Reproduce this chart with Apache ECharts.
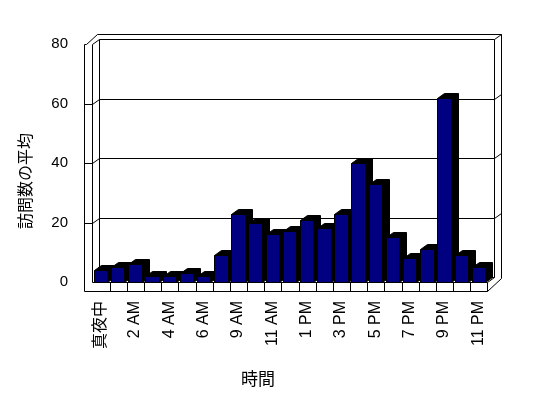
<!DOCTYPE html>
<html>
<head>
<meta charset="utf-8">
<script src="https://cdn.jsdelivr.net/npm/echarts@6/dist/echarts.min.js"></script>
<style>html,body{margin:0;padding:0;background:#fff;}#c{width:548px;height:398px;}</style>
</head>
<body>
<div id="c"></div>
<script>
const categories = ['真夜中','1 AM','2 AM','3 AM','4 AM','5 AM','6 AM','8 AM','9 AM','10 AM','11 AM','正午','1 PM','2 PM','3 PM','4 PM','5 PM','6 PM','7 PM','8 PM','9 PM','10 PM','11 PM'];
const visits = [4,5,6,2,2,3,2,9,23,20,16,17,21,18,23,40,33,15,8,11,62,9,5];
const yMin = 0, yMax = 80, yStep = 20;
const gridValues = [20, 40, 60];
const xTitle = '時間';
const yTitle = '訪問数の平均';

const DX = 7, DY = 5;
const h = v => Math.round(v) + 0.5;
const LS = { stroke: '#000', lineWidth: 1, fill: null };

function frameItem(params, api) {
  const bw = api.size([1, 0])[0];
  const n = categories.length;
  const L = h(api.coord([0, yMin])[0] - bw / 2);
  const R = h(api.coord([n - 1, yMin])[0] + bw / 2);
  const B = h(api.coord([0, yMin])[1]);
  const T = h(api.coord([0, yMax])[1]);
  const kids = [];
  const pl = pts => kids.push({ type: 'polyline', shape: { points: pts }, style: LS, silent: true });
  pl([[L - 8, B + 9], [L - 8, T], [L - 6, T], [L + 5, T - 10], [R + 14, T - 10], [R + 14, B - 4], [R, B + 9], [L - 8, B + 9]]);
  pl([[L, B], [L, T], [L + DX, T - DY], [R + DX, T - DY], [R + 14, T - 10]]);
  pl([[L + DX, T - DY], [L + DX, B - DY], [R + DX, B - DY]]);
  pl([[R + DX, T - DY], [R + DX, B - DY], [R, B]]);
  pl([[L, B], [R, B], [R, B + 9]]);
  gridValues.forEach(v => {
    const y = h(api.coord([0, v])[1]);
    pl([[L - 8, y], [L, y], [L + DX, y - DY], [R + DX, y - DY], [R + 14, y - 10]]);
  });
  for (let i = 1; i < n; i++) {
    const x = h(L + i * bw);
    pl([[x, B], [x, B + 9]]);
  }
  return { type: 'group', children: kids };
}

function barItem(params, api) {
  const i = api.value(0), v = api.value(1);
  const bw = api.size([1, 0])[0];
  const w = bw * 0.78;
  const top = api.coord([i, v]);
  const base = api.coord([i, yMin]);
  const x0 = h(top[0] - w / 2), x1 = h(top[0] + w / 2);
  const yt = h(top[1]), yb = h(base[1]);
  return {
    type: 'group',
    children: [
      { type: 'polygon', z2: i * 2, shape: { points: [[x0, yt], [x0 + DX, yt - DY], [x1 + DX, yt - DY], [x1 + DX, yb - DY], [x1, yb], [x1, yt]] }, style: { fill: '#000', stroke: '#000', lineWidth: 1 } },
      { type: 'rect', z2: i * 2 + 1, shape: { x: x0, y: yt, width: x1 - x0, height: yb - yt }, style: { fill: '#000080', stroke: '#000', lineWidth: 1 } }
    ]
  };
}

const chart = echarts.init(document.getElementById('c'), null, { renderer: 'canvas' });
chart.setOption({
  animation: false,
  backgroundColor: '#fff',
  grid: { left: 92, top: 44, width: 395, height: 238, containLabel: false },
  xAxis: {
    type: 'category', data: categories, boundaryGap: true,
    axisLine: { show: false }, axisTick: { show: false }, splitLine: { show: false },
    axisLabel: { interval: 1, rotate: 90, margin: 19, fontSize: 16, color: '#000', fontFamily: 'Liberation Sans, Arial, Noto Sans CJK JP, sans-serif' },
    name: xTitle, nameLocation: 'middle', nameGap: 88,
    nameTextStyle: { fontSize: 17, color: '#000', fontFamily: 'Noto Sans CJK JP, sans-serif', padding: [0, 63, 0, 0] }
  },
  yAxis: {
    type: 'value', min: yMin, max: yMax, interval: yStep,
    axisLine: { show: false }, axisTick: { show: false }, splitLine: { show: false },
    axisLabel: { margin: 24, fontSize: 15, color: '#000', fontFamily: 'Liberation Sans, Arial, sans-serif' },
    name: yTitle, nameLocation: 'middle', nameRotate: 90, nameGap: 59,
    nameTextStyle: { fontSize: 16, color: '#000', fontFamily: 'Noto Sans CJK JP, sans-serif', padding: [0, 36, 0, 0] }
  },
  series: [
    { type: 'custom', z: 1, silent: true, renderItem: frameItem, data: [[0, 0]], clip: false },
    { type: 'custom', z: 2, silent: true, renderItem: barItem, data: visits.map((v, i) => [i, v]), clip: false }
  ]
});
</script>
</body>
</html>
